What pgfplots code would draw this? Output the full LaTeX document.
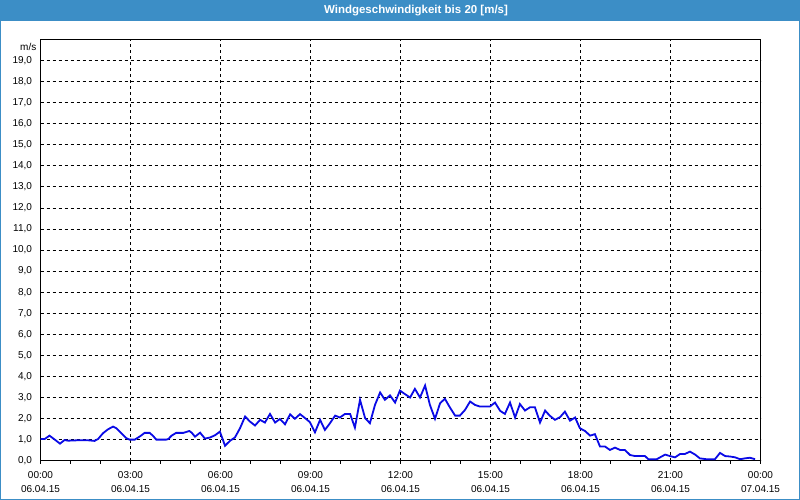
\documentclass[border=0pt]{standalone}
\usepackage{pgfplots}
\pgfplotsset{compat=1.18}
\usepackage{fontspec}
\setmainfont{Liberation Sans}
\definecolor{barblue}{HTML}{3C8EC6}
\definecolor{lineblue}{HTML}{0A0AE6}
\begin{document}
\begin{tikzpicture}[x=1pt,y=1pt]
\useasboundingbox (0,0) rectangle (800,500);
\fill[white] (0,0) rectangle (800,500);
\fill[barblue] (0,479) rectangle (800,500);
\draw[barblue, line width=1.2pt] (0.6,0.6) rectangle (799.4,499.4);
\node[text=white, font=\bfseries\fontsize{11.5}{13}\selectfont] at (416,489.5) {Windgeschwindigkeit bis 20 [m/s]};
\node[anchor=east, font=\fontsize{10}{12}\selectfont, inner sep=0pt] at (36.5,453) {m/s};
\begin{axis}[
  at={(40.5pt,39.3pt)}, anchor=south west,
  scale only axis, width=720pt, height=421.3pt,
  xmin=0, xmax=24, ymin=0, ymax=20,
  axis line style={black, line width=1pt},
  xtick={0,3,...,24},
  xticklabels={{00:00\\06.04.15},{03:00\\06.04.15},{06:00\\06.04.15},{09:00\\06.04.15},{12:00\\06.04.15},{15:00\\06.04.15},{18:00\\06.04.15},{21:00\\06.04.15},{00:00\\07.04.15}},
  minor xtick={1,2,4,5,7,8,10,11,13,14,16,17,19,20,22,23},
  xtick pos=bottom, tick align=outside,
  major tick length=3pt, minor tick length=3pt,
  xtick style={black, line width=0.8pt},
  ytick={0,1,...,19},
  ytick style={draw=none},
  yticklabel style={/pgf/number format/fixed, /pgf/number format/fixed zerofill, /pgf/number format/precision=1, /pgf/number format/use comma},
  yticklabel style={font=\fontsize{10}{12}\selectfont, xshift=-2pt},
  xticklabel style={font=\fontsize{10}{14.5}\selectfont, align=center, yshift=-4pt},
  /pgf/number format/assume math mode=true,
  grid=major,
  major grid style={black, line width=0.8pt, dash pattern=on 3pt off 3pt},
]
\addplot[lineblue, line width=1.8pt] coordinates {
(0,1.03) (0.14,1.03) (0.3,1.19) (0.45,1.03) (0.65,0.81) (0.8,0.98) (0.92,0.95) (1.25,0.97) (1.58,0.97) (1.8,0.94) (1.92,1.03)
(2.08,1.3) (2.25,1.49) (2.42,1.62) (2.53,1.54) (2.7,1.3) (2.86,1.07) (2.97,1.0) (3.14,1.0) (3.3,1.14) (3.47,1.32) (3.64,1.32)
(3.75,1.18) (3.86,1.0) (4.19,1.0) (4.26,1.03) (4.37,1.19) (4.52,1.32) (4.76,1.32) (4.96,1.41) (5.04,1.33) (5.15,1.14) (5.32,1.33)
(5.48,1.05) (5.65,1.1) (5.82,1.21) (5.98,1.38) (6.06,1.07) (6.15,0.71) (6.32,0.95) (6.48,1.1) (6.65,1.54) (6.82,2.1) (6.98,1.86)
(7.15,1.67) (7.32,1.94) (7.48,1.81) (7.65,2.22) (7.82,1.81) (7.98,1.98) (8.15,1.73) (8.32,2.2) (8.48,1.99) (8.65,2.21) (8.82,2.02)
(8.98,1.83) (9.15,1.35) (9.32,1.94) (9.48,1.46) (9.65,1.78) (9.82,2.14) (9.98,2.05) (10.15,2.22) (10.32,2.22) (10.48,1.57)
(10.65,2.89) (10.82,2.02) (10.98,1.78) (11.15,2.65) (11.32,3.24) (11.48,2.89) (11.65,3.1) (11.82,2.76) (11.98,3.33) (12.15,3.16)
(12.32,3.0) (12.48,3.41) (12.65,3.0) (12.82,3.57) (12.98,2.65) (13.15,1.99) (13.32,2.73) (13.48,2.94) (13.65,2.52) (13.82,2.14)
(13.98,2.14) (14.15,2.41) (14.32,2.81) (14.48,2.65) (14.65,2.57) (14.98,2.57) (15.15,2.76) (15.32,2.37) (15.48,2.22) (15.65,2.76)
(15.82,2.05) (15.98,2.69) (16.15,2.38) (16.32,2.54) (16.48,2.54) (16.65,1.81) (16.82,2.38) (16.98,2.13) (17.15,1.94) (17.32,2.07)
(17.48,2.33) (17.65,1.9) (17.82,2.05) (17.98,1.54) (18.15,1.41) (18.32,1.19) (18.48,1.26) (18.65,0.67) (18.82,0.67) (18.98,0.51)
(19.15,0.62) (19.32,0.51) (19.48,0.51) (19.65,0.27) (19.82,0.22) (20.15,0.22) (20.26,0.07) (20.54,0.07) (20.82,0.29) (20.98,0.22)
(21.15,0.16) (21.32,0.32) (21.48,0.32) (21.65,0.43) (21.82,0.29) (21.98,0.11) (22.2,0.07) (22.48,0.07) (22.65,0.37) (22.82,0.22)
(22.98,0.2) (23.15,0.16) (23.32,0.07) (23.48,0.11) (23.65,0.14) (23.82,0.07)
};
\end{axis}
\end{tikzpicture}
\end{document}
